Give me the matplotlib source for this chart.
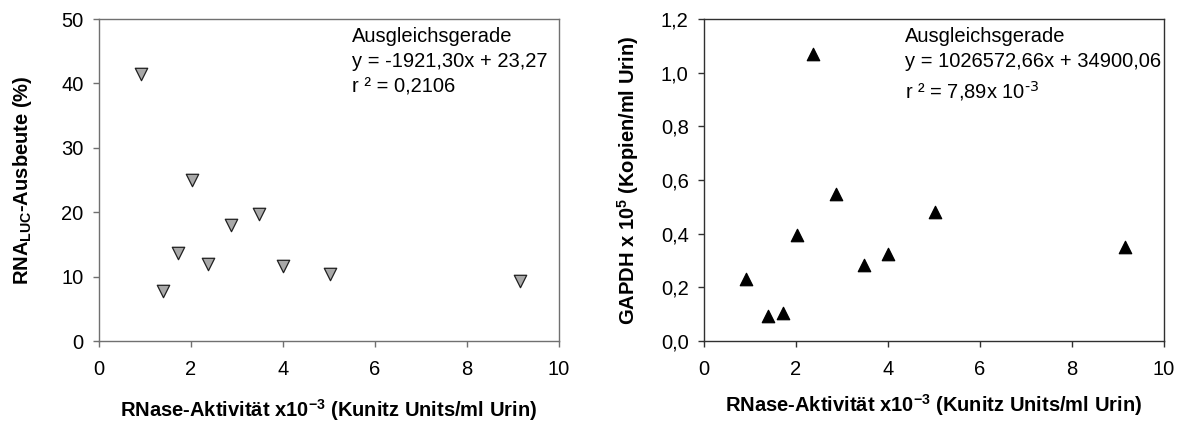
import numpy as np
import matplotlib.pyplot as plt

plt.rcParams['font.family'] = ['Liberation Sans', 'DejaVu Sans']
plt.rcParams['mathtext.default'] = 'regular'

# RNase activity (x10^-3 Kunitz Units/ml Urin), same samples in both panels
rnase = [0.92, 1.40, 1.72, 2.02, 2.38, 2.86, 3.48, 4.00, 5.02, 9.16]
# RNA_LUC yield (%)
ausbeute = [41.4, 7.7, 13.6, 25.0, 11.9, 18.0, 19.7, 11.7, 10.4, 9.3]
# GAPDH x 10^5 copies/ml Urin
gapdh = [0.230, 0.095, 0.106, 0.395, 1.068, 0.547, 0.283, 0.324, 0.480, 0.349]

x_ticks = [0, 2, 4, 6, 8, 10]
y1_ticks = [0, 10, 20, 30, 40, 50]
y2_ticks = [0.0, 0.2, 0.4, 0.6, 0.8, 1.0, 1.2]

xlabel = r'RNase-Aktivität x10$^{-3}$ (Kunitz Units/ml Urin)'
fs = 14.5

fig = plt.figure(figsize=(11.8, 4.25), dpi=100)
ax1 = fig.add_axes([0.0839, 0.1976, 0.3898, 0.7576])
ax2 = fig.add_axes([0.5966, 0.1976, 0.3898, 0.7576])

ax1.scatter(rnase, ausbeute, marker='v', s=80, c='#a8a8a8',
            edgecolors='#202020', linewidths=0.9, zorder=3)
ax2.scatter(rnase, gapdh, marker='^', s=80, c='black',
            edgecolors='black', linewidths=0.9, zorder=3)

for ax, col in ((ax1, '#707070'), (ax2, '#303030')):
    ax.set_xlim(0, 10)
    ax.set_xticks(x_ticks)
    ax.tick_params(direction='out', length=4, width=1.0, labelsize=fs,
                   top=False, right=False, color=col)
    ax.tick_params(axis='y', pad=7)
    ax.tick_params(axis='x', pad=10)
    for sp in ax.spines.values():
        sp.set_linewidth(1.0)
        sp.set_color(col)

ax1.set_xlabel(xlabel, fontsize=fs, fontweight='bold', labelpad=13)
ax2.set_xlabel(xlabel, fontsize=fs, fontweight='bold', labelpad=9)

ax1.set_ylim(0, 50)
ax1.set_yticks(y1_ticks)
ax1.set_ylabel(r'RNA$_{LUC}$-Ausbeute (%)', fontsize=fs, fontweight='bold',
               labelpad=20)

ax2.set_ylim(0, 1.2)
ax2.set_yticks(y2_ticks)
ax2.set_yticklabels([('%.1f' % v).replace('.', ',') for v in y2_ticks])
ax2.set_ylabel(r'GAPDH x 10$^{5}$ (Kopien/ml Urin)', fontsize=fs,
               fontweight='bold', labelpad=14)

ax1.text(0.55, 0.975, 'Ausgleichsgerade\ny = -1921,30x + 23,27\nr ² = 0,2106',
         transform=ax1.transAxes, fontsize=fs, va='top', ha='left',
         linespacing=1.4)
ax2.text(0.437, 0.975,
         'Ausgleichsgerade\ny = 1026572,66x + 34900,06\n'
         r'r ² = 7,89x 10$^{\text{-3}}$',
         transform=ax2.transAxes, fontsize=fs, va='top', ha='left',
         linespacing=1.4)

fig.savefig('out.png', dpi=100)
